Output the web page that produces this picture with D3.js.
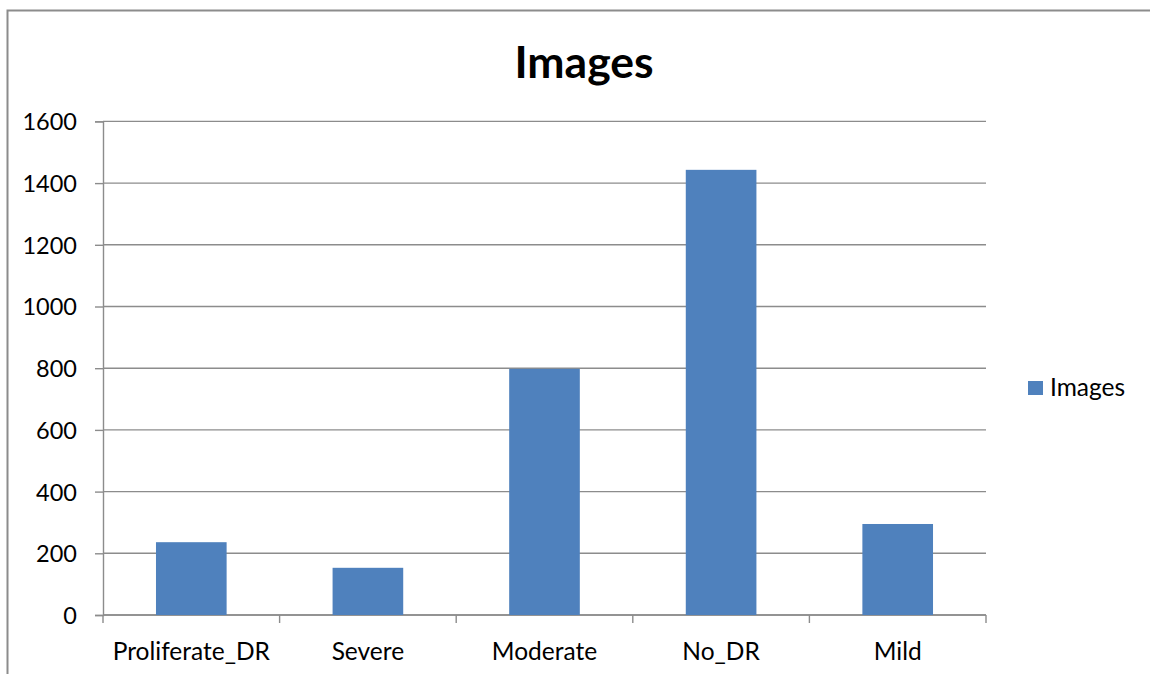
<!DOCTYPE html>
<html>
<head>
<meta charset="utf-8">
<script src="https://cdn.jsdelivr.net/npm/d3@7"></script>
<style>
  html, body { margin: 0; padding: 0; background: #fff; }
  svg { display: block; }
  text { font-family: Lato, "Open Sans", sans-serif; fill: #000; }
</style>
</head>
<body>
<svg id="chart" width="1150" height="674"></svg>
<script>
// Image counts per diabetic retinopathy grade
const categories = ["Proliferate_DR", "Severe", "Moderate", "No_DR", "Mild"];
const images = [236, 153, 798, 1443, 295];
const yTicks = [0, 200, 400, 600, 800, 1000, 1200, 1400, 1600];
const seriesName = "Images";
const chartTitle = "Images";

const svg = d3.select("#chart");
const W = 1150, H = 674;
const plot = { left: 103, right: 986, top: 121.4, bottom: 615 };
const grey = "#8c8c8c";
const barColor = "#4f81bd";

// outer frame (top and left edges)
svg.append("path")
  .attr("d", `M7.5,${H} L7.5,10.5 L${W},10.5`)
  .attr("fill", "none").attr("stroke", grey).attr("stroke-width", 2);

const x = d3.scaleBand()
  .domain(categories)
  .range([plot.left, plot.right])
  .paddingInner(0.6)
  .paddingOuter(0.3);

const y = d3.scaleLinear()
  .domain([0, 1600])
  .range([plot.bottom, plot.top]);

// horizontal gridlines
svg.append("g")
  .selectAll("line")
  .data(yTicks)
  .join("line")
  .attr("x1", plot.left).attr("x2", plot.right)
  .attr("y1", d => y(d)).attr("y2", d => y(d))
  .attr("stroke", grey).attr("stroke-width", 1.4);

// y axis
const yAxis = svg.append("g")
  .attr("transform", `translate(${plot.left},0)`)
  .call(d3.axisLeft(y).tickValues(yTicks).tickSize(8).tickPadding(18).tickFormat(d3.format("d")));
yAxis.select(".domain").attr("stroke", grey).attr("stroke-width", 1.4);
yAxis.selectAll(".tick line").attr("stroke", grey).attr("stroke-width", 1.4);
yAxis.selectAll(".tick text")
  .attr("font-size", 23.5).attr("font-family", "Lato, sans-serif").attr("fill", "#000")
  .attr("dy", "0.36em");

// x axis with boundary ticks between categories
const step = x.step();
const boundaries = d3.range(categories.length + 1).map(i => plot.left + i * step);
const xg = svg.append("g");
xg.append("line")
  .attr("x1", plot.left).attr("x2", plot.right)
  .attr("y1", plot.bottom).attr("y2", plot.bottom)
  .attr("stroke", grey).attr("stroke-width", 1.4);
xg.selectAll("line.tick")
  .data(boundaries)
  .join("line")
  .attr("class", "tick")
  .attr("x1", d => d).attr("x2", d => d)
  .attr("y1", plot.bottom).attr("y2", plot.bottom + 8)
  .attr("stroke", grey).attr("stroke-width", 1.4);
xg.selectAll("text")
  .data(categories)
  .join("text")
  .attr("x", d => x(d) + x.bandwidth() / 2)
  .attr("y", 660)
  .attr("text-anchor", "middle")
  .attr("font-size", 24.5)
  .text(d => d);

// bars
svg.append("g")
  .selectAll("rect")
  .data(categories.map((c, i) => ({ c, v: images[i] })))
  .join("rect")
  .attr("x", d => x(d.c))
  .attr("width", x.bandwidth())
  .attr("y", d => y(d.v))
  .attr("height", d => y(0) - y(d.v))
  .attr("fill", barColor);

// title
svg.append("text")
  .attr("x", 584).attr("y", 78)
  .attr("text-anchor", "middle")
  .attr("font-size", 44.5).attr("font-weight", "bold")
  .text(chartTitle);

// legend
const lg = svg.append("g").attr("transform", "translate(1028,381)");
lg.append("rect").attr("width", 15).attr("height", 14).attr("fill", barColor);
lg.append("text").attr("x", 22).attr("y", 14.5).attr("font-size", 24.5).text(seriesName);
</script>
</body>
</html>
